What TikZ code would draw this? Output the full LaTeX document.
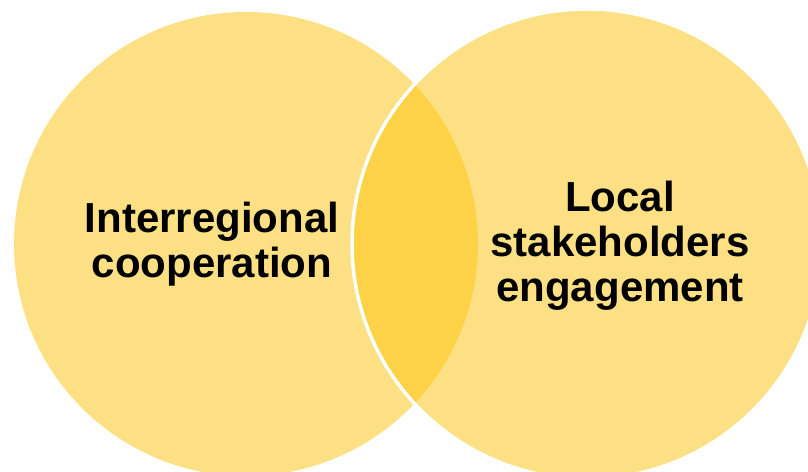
\documentclass[tikz,border=0pt]{standalone}
\usepackage{fontspec}
\setmainfont{Liberation Sans}
\definecolor{setfill}{RGB}{252,224,131}
\definecolor{lensfill}{RGB}{253,210,70}
\begin{document}
\begin{tikzpicture}[x=1pt,y=1pt]
  \tikzstyle{setlabel}=[align=center,font=\fontsize{42}{45}\selectfont\bfseries,inner sep=0pt]
  \clip (0,0) rectangle (808,471);
  \useasboundingbox (0,0) rectangle (808,471);
  \coordinate (A) at (246,227);
  \coordinate (B) at (587,227);
  % the two sets
  \fill[setfill] (A) circle (232);
  \fill[setfill] (B) circle (235);
  \begin{scope}
    \clip (A) circle (232);
    \fill[lensfill] (B) circle (235);
  \end{scope}
  \draw[white,line width=3.5pt] (B) circle (235);

  \node[setlabel] (inter) at (212,227) {Interregional\\cooperation};
  \node[setlabel] (local) at (620,225) {Local\\stakeholders\\engagement};
\end{tikzpicture}
\end{document}
